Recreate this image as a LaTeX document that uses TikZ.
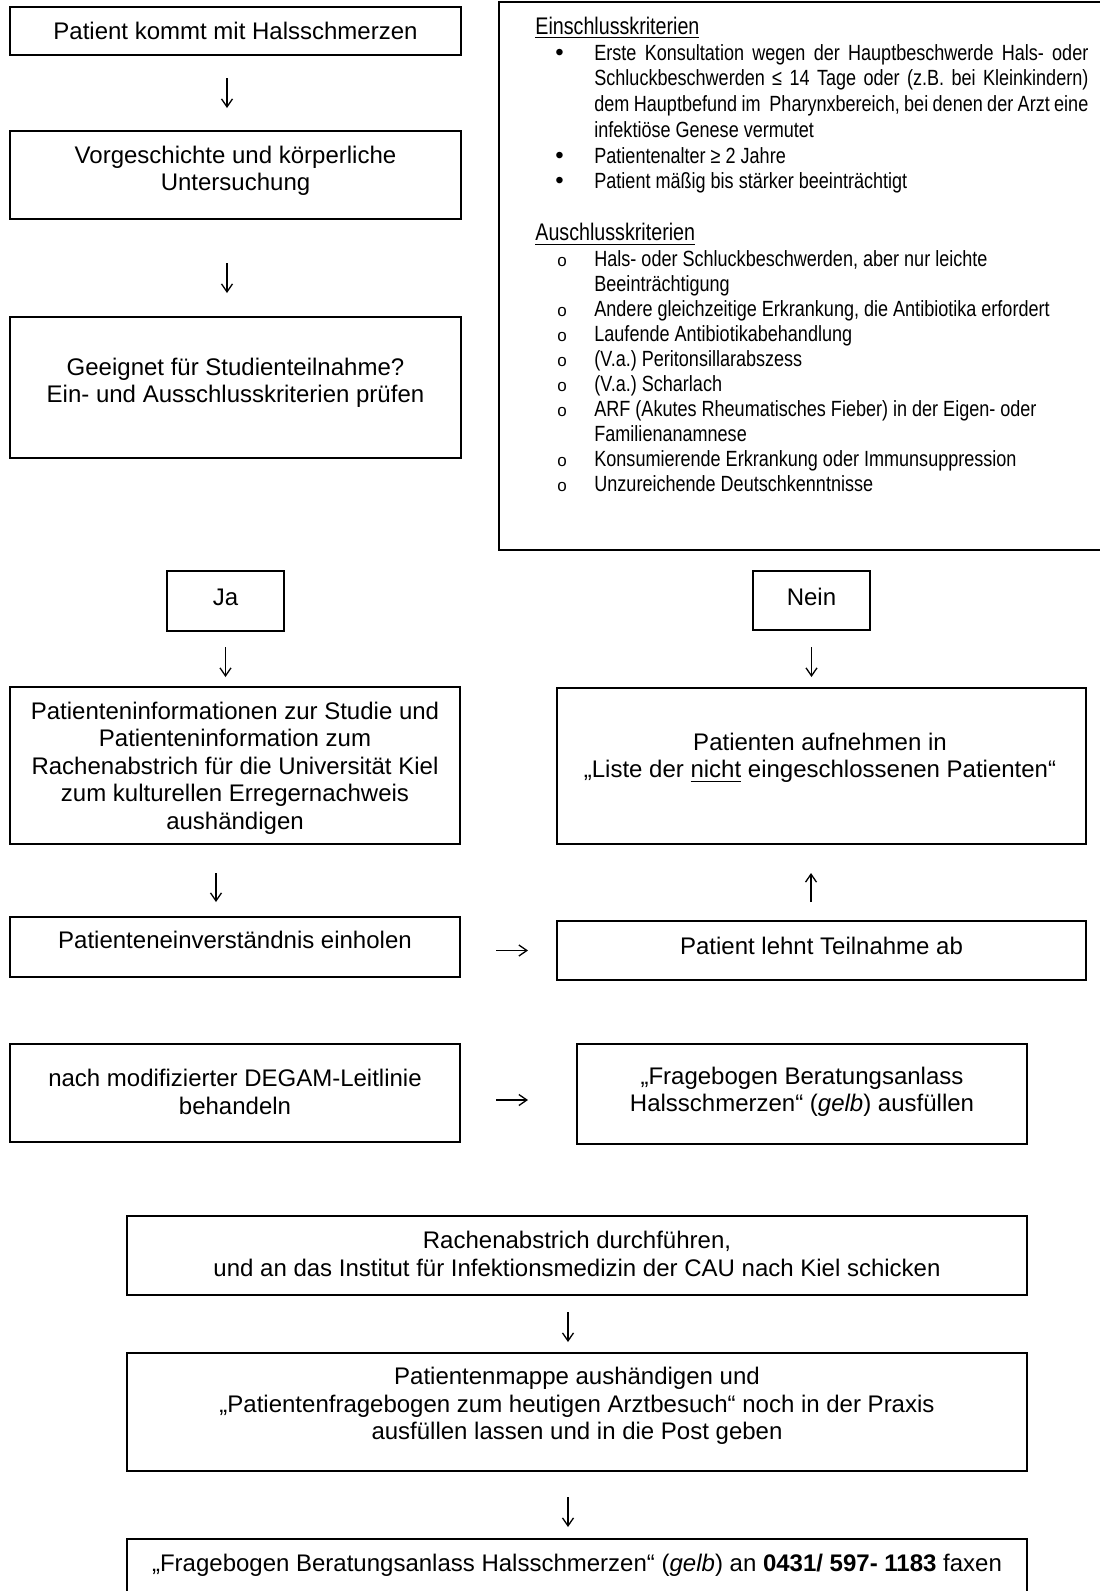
\documentclass[tikz,border=0pt]{standalone}
\usepackage{fontspec}
\setmainfont{Liberation Sans}
\newfontfamily\narrowfont{Liberation Sans}[FakeStretch=0.82]
\usetikzlibrary{fit,arrows.meta,calc}
\newcommand{\critline}[2]{\par\hangindent=29.5pt\hangafter=1\noindent\rlap{#1}\hspace*{29.5pt}#2}
\newcommand{\mybul}{\hspace{10pt}{\rmfamily\fontsize{12pt}{0pt}\selectfont\textbullet}}
\newcommand{\mycirc}{\hspace{11pt}{\rmfamily\fontsize{8.5pt}{0pt}\selectfont o}}
\begin{document}
\begin{tikzpicture}[x=0.5pt,y=-0.5pt,
  box/.style={draw=black, line width=1pt, inner sep=0pt},
  txt/.style={inner sep=0pt, align=center, font=\fontsize{12pt}{13.75pt}\selectfont},
  arr/.style={-{Straight Barb[length=4pt,width=5.5pt]}, line width=0.65pt}]
\fill[white] (0,0) rectangle (1099,1591);
\useasboundingbox (0,0) rectangle (1099,1591);

% boxes
\node[box, fit={(10,7) (461,55)}] (b1) {};
\node[box, fit={(10,131) (461,219)}] (b2) {};
\node[box, fit={(10,317) (461,458)}] (b3) {};
\node[box, fit={(499,2) (1115,550)}] (crit) {};
\node[box, fit={(167,571) (284,631)}] (ja) {};
\node[box, fit={(753,571) (870,630)}] (nein) {};
\node[box, fit={(10,687) (460,844)}] (pi) {};
\node[box, fit={(557,688) (1086,844)}] (liste) {};
\node[box, fit={(10,917) (460,977)}] (einv) {};
\node[box, fit={(557,921) (1086,980)}] (lehnt) {};
\node[box, fit={(10,1044) (460,1142)}] (degam) {};
\node[box, fit={(577,1044) (1027,1144)}] (frage) {};
\node[box, fit={(127,1216) (1027,1295)}] (rachen) {};
\node[box, fit={(127,1353) (1027,1471)}] (mappe) {};
\node[box, fit={(127,1539) (1027,1610)}] (fax) {};

% texts
\node[txt] (t1) at (235.5,31) {Patient kommt mit Halsschmerzen};
\node[txt] (t2) at (235.5,171) {Vorgeschichte und körperliche\\Untersuchung};
\node[txt] (t3) at (235.5,383) {Geeignet für Studienteilnahme?\\Ein- und Ausschlusskriterien prüfen};
\node[txt] (tja) at (225.5,597) {Ja};
\node[txt] (tnein) at (811.5,597) {Nein};
\node[txt] (tpi) at (235,768) {Patienteninformationen zur Studie und\\Patienteninformation zum\\Rachenabstrich für die Universität Kiel\\zum kulturellen Erregernachweis\\aushändigen};
\node[txt] (tliste) at (820,758) {Patienten aufnehmen in\\„Liste der \underline{nicht} eingeschlossenen Patienten“};
\node[txt] (teinv) at (235,940) {Patienteneinverständnis einholen};
\node[txt] (tlehnt) at (821.5,946) {Patient lehnt Teilnahme ab};
\node[txt] (tdegam) at (235,1092) {nach modifizierter DEGAM-Leitlinie\\behandeln};
\node[txt] (tfrage) at (802,1092) {„Fragebogen Beratungsanlass\\Halsschmerzen“ (\textit{gelb}) ausfüllen};
\node[txt] (trachen) at (577,1254) {Rachenabstrich durchführen,\\und an das Institut für Infektionsmedizin der CAU nach Kiel schicken};
\node[txt] (tmappe) at (577,1406) {Patientenmappe aushändigen und\\„Patientenfragebogen zum heutigen Arztbesuch“ noch in der Praxis\\ausfüllen lassen und in die Post geben};
\node[txt] (tfax) at (577,1565) {„Fragebogen Beratungsanlass Halsschmerzen“ (\textit{gelb}) an \textbf{0431/ 597- 1183} faxen};

% criteria text
\node[anchor=base west, inner sep=0pt, text width=276.5pt, align=justify,
  font=\narrowfont\fontsize{11pt}{12.85pt}\selectfont\frenchspacing] (crittext) at (535,34.5) {%
{\fontsize{12pt}{12.85pt}\selectfont\underline{Einschlusskriterien}}
\critline{\mybul}{Erste Konsultation wegen der Hauptbeschwerde Hals- oder\linebreak Schluckbeschwerden ≤ 14 Tage oder (z.B. bei Kleinkindern)\linebreak dem Hauptbefund im \ Pharynxbereich, bei denen der Arzt eine\linebreak infektiöse Genese vermutet}
\critline{\mybul}{Patientenalter ≥ 2 Jahre}
\critline{\mybul}{Patient mäßig bis stärker beeinträchtigt}
\par\vspace{13.6pt}
\fontsize{11pt}{12.53pt}\selectfont
\noindent{\fontsize{12pt}{12.53pt}\selectfont\underline{Auschlusskriterien}}
\critline{\mycirc}{Hals- oder Schluckbeschwerden, aber nur leichte\hfil\break Beeinträchtigung}
\critline{\mycirc}{Andere gleichzeitige Erkrankung, die Antibiotika erfordert}
\critline{\mycirc}{Laufende Antibiotikabehandlung}
\critline{\mycirc}{(V.a.) Peritonsillarabszess}
\critline{\mycirc}{(V.a.) Scharlach}
\critline{\mycirc}{ARF (Akutes Rheumatisches Fieber) in der Eigen- oder\hfil\break Familienanamnese}
\critline{\mycirc}{Konsumierende Erkrankung oder Immunsuppression}
\critline{\mycirc}{Unzureichende Deutschkenntnisse}\par};

% connectors
\draw[arr, shorten <=11pt, shorten >=11pt] ([xshift=-4.25pt]b1.south) -- ([xshift=-4.25pt]b2.north);
\draw[arr, shorten <=21.5pt, shorten >=11.5pt] ([xshift=-4.25pt]b2.south) -- ([xshift=-4.25pt]b3.north);
\draw[arr, shorten <=7.5pt, shorten >=4.5pt] (ja.south) -- (ja.south |- pi.north);
\draw[arr, shorten <=8pt, shorten >=5pt] (nein.south) -- (nein.south |- liste.north);
\draw[arr, shorten <=14pt, shorten >=7pt] ([xshift=-9.5pt]pi.south) -- ([xshift=-9.5pt]einv.north);
\draw[arr, shorten <=9pt, shorten >=14pt] ([xshift=-5.25pt]lehnt.north) -- ([xshift=-5.25pt]liste.south);
\draw[arr, shorten <=17.5pt, shorten >=14pt] (einv.east |- lehnt.west) -- (lehnt.west);
\draw[arr, shorten <=17.5pt, shorten >=24pt] ([yshift=-3.5pt]degam.east) -- ([yshift=-3.5pt]degam.east -| frage.west);
\draw[arr, shorten <=8pt, shorten >=5pt] ([xshift=-4.5pt]rachen.south) -- ([xshift=-4.5pt]mappe.north);
\draw[arr, shorten <=12.5pt, shorten >=5.5pt] ([xshift=-4.5pt]mappe.south) -- ([xshift=-4.5pt]fax.north);
\end{tikzpicture}
\end{document}
